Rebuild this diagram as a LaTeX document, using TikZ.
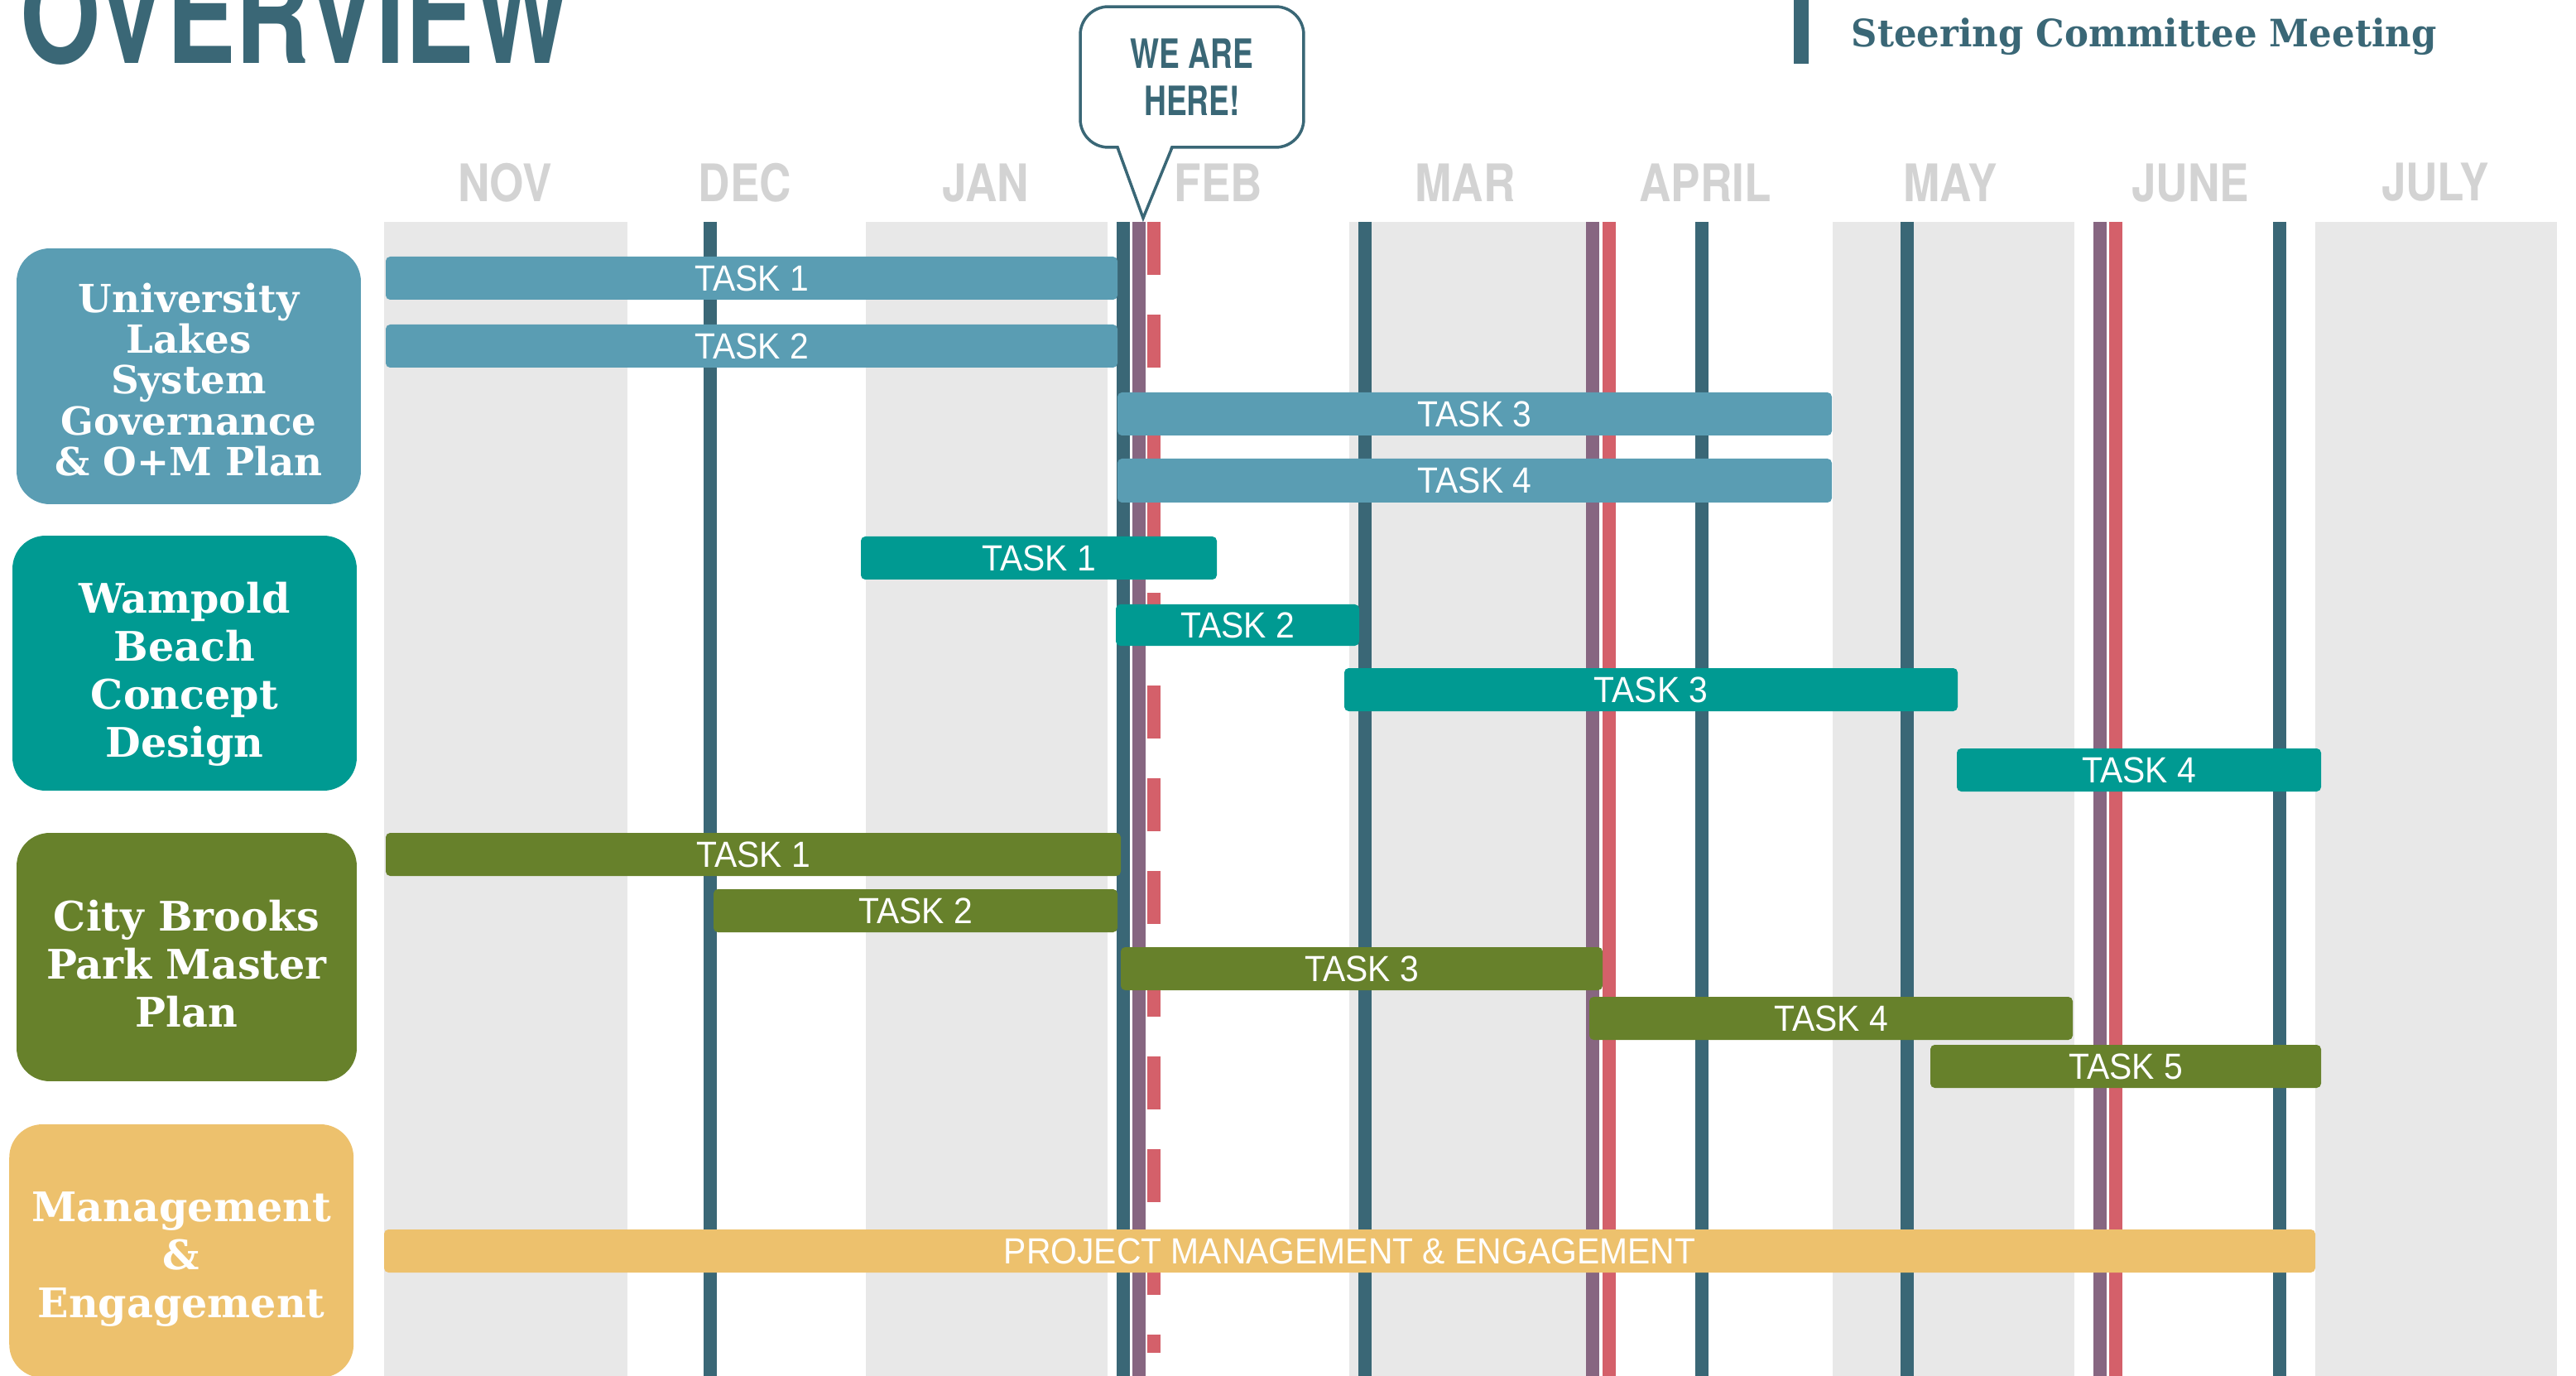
\documentclass[tikz,border=0pt]{standalone}
\usepackage{fontspec}
\newfontfamily\headfont{TeX Gyre Heros}[FakeStretch=0.76]
\newfontfamily\monthfont{TeX Gyre Heros}[FakeStretch=0.85]
\newfontfamily\boxfont{DejaVu Serif}
\newfontfamily\meetfont{DejaVu Serif}[FakeStretch=0.95]
\newfontfamily\taskfont{Liberation Sans}[FakeStretch=0.93]
\definecolor{darkteal}{HTML}{3A6776}
\definecolor{lakes}{HTML}{5A9DB3}
\definecolor{wampold}{HTML}{009A92}
\definecolor{brooks}{HTML}{67812B}
\definecolor{mgmt}{HTML}{EDC16D}
\definecolor{meetpurple}{HTML}{876681}
\definecolor{meetred}{HTML}{D4606A}
\definecolor{band}{HTML}{E8E8E8}
\definecolor{monthgray}{HTML}{D3D3D3}
\def\taskbar[#1](#2:#3:#4:#5)(#6)#7{\fill[#1, rounded corners=1.5pt] (#2,#4) rectangle (#3,#5); \node[tasklabel] (#6) at ({(#2+#3)/2},{(#4+#5)/2}) {#7};}
\tikzset{
	tasklabel/.style={inner sep=0pt, text=white, font=\taskfont\fontsize{12.5}{12.5}\selectfont},
	month/.style={inner sep=0pt, text=monthgray, font=\monthfont\bfseries\fontsize{17.8}{17.8}\selectfont},
	catbox/.style={rounded corners=0.4cm, inner sep=0pt},
	cattext/.style={text=white, align=center, inner sep=0pt, font=\boxfont\bfseries\fontsize{14}{16.5}\selectfont},
	tealline/.style={line width=0.16cm, color=darkteal},
	purpleline/.style={line width=0.16cm, color=meetpurple},
	redline/.style={line width=0.16cm, color=meetred},
}

\begin{document}
\begin{tikzpicture}[x=0.02cm, y=-0.02cm]
		%%%%% START %%%%%
		\useasboundingbox (0,0) rectangle (1556,831);
		
		\node[anchor=base west, inner sep=0pt, text=darkteal, font=\headfont\bfseries\fontsize{46.8}{46.8}\selectfont] (title) at (12,38.5) {OVERVIEW};
		
		\fill[darkteal] (1083.5,0) rectangle (1092.5,38.5);
		\node[anchor=base west, inner sep=0pt, text=darkteal, font=\meetfont\bfseries\fontsize{13}{13}\selectfont] (meeting) at (1118,28.3) {Steering Committee Meeting};
		
		% month bands
		\fill[band] (232,134) rectangle (379,831);
		\fill[band] (523,134) rectangle (669,831);
		\fill[band] (815,134) rectangle (961,831);
		\fill[band] (1107,134) rectangle (1253,831);
		\fill[band] (1398.5,134) rectangle (1544.5,831);
		
		\node[month] (nov) at (305,110.5) {NOV};
		\node[month] (dec) at (450,110.5) {DEC};
		\node[month] (jan) at (595.5,110.5) {JAN};
		\node[month] (feb) at (736,110.5) {FEB};
		\node[month] (mar) at (885,110.5) {MAR};
		\node[month] (apr) at (1030,110.5) {APRIL};
		\node[month] (may) at (1178,110.5) {MAY};
		\node[month] (jun) at (1323,110.5) {JUNE};
		\node[month] (jul) at (1471,110) {JULY};
		
		% meetings
		\draw[tealline] (429,134) -- (429,831);
		\draw[tealline] (678.5,134) -- (678.5,831);
		\draw[tealline] (824.5,134) -- (824.5,831);
		\draw[tealline] (1028,134) -- (1028,831);
		\draw[tealline] (1152,134) -- (1152,831);
		\draw[tealline] (1377,134) -- (1377,831);
		\draw[purpleline] (688,134) -- (688,831);
		\draw[purpleline] (962,134) -- (962,831);
		\draw[purpleline] (1268.5,134) -- (1268.5,831);
		\draw[redline, dash pattern=on 0.64cm off 0.48cm] (697,134) -- (697,817);
		\draw[redline] (972,134) -- (972,831);
		\draw[redline] (1278,134) -- (1278,831);
		
		% we are here
		\node[draw=darkteal, line width=1pt, fill=white, rounded corners=0.34cm, minimum width=2.7cm, minimum height=1.7cm, align=center, text=darkteal, font=\headfont\bfseries\fontsize{13.9}{16.2}\selectfont] (here) at (720,46.5) {WE ARE\\HERE!};
		\fill[white] (675.5,87.5) -- (690.5,129.5) -- (707.5,87.5) -- cycle;
		\coordinate (tip) at (690.5,131.7);
		\draw[darkteal, line width=1pt, line join=miter] (675,89) -- (tip) -- (708,89);
		
		% groups
		\node[catbox, fill=lakes, minimum width=4.16cm, minimum height=3.09cm] (lakes) at (114,227.25) {};
		\node[cattext, font=\boxfont\bfseries\fontsize{13.3}{14}\selectfont] (lakestext) at ([yshift=-0.04cm]lakes.center) {University\\Lakes\\System\\Governance\\\& O+M Plan};
		\node[catbox, fill=wampold, minimum width=4.16cm, minimum height=3.08cm] (wampold) at (111.5,400.5) {};
		\node[cattext] (wampoldtext) at ([yshift=-0.13cm]wampold.center) {Wampold\\Beach\\Concept\\Design};
		\node[catbox, fill=brooks, minimum width=4.11cm, minimum height=3cm] (brooks) at (112.75,578) {};
		\node[cattext] (brookstext) at ([yshift=-0.08cm]brooks.center) {City Brooks\\Park Master\\Plan};
		\node[catbox, fill=mgmt, minimum width=4.16cm, minimum height=3.06cm] (mgmt) at (109.6,755.5) {};
		\node[cattext] (mgmttext) at ([yshift=-0.1cm]mgmt.center) {Management\\\&\\Engagement};
		
		% tasks
		\taskbar[fill=lakes](233:675:155:181)(lakesA){TASK 1}
		\taskbar[fill=lakes](233:675:196:222)(lakesB){TASK 2}
		\taskbar[fill=lakes](675:1106.5:237:263)(lakesC){TASK 3}
		\taskbar[fill=lakes](675:1106.5:277:303.5)(lakesD){TASK 4}
		
		\taskbar[fill=wampold](520:735:324:350)(wampoldA){TASK 1}
		\taskbar[fill=wampold](674:821:365:390)(wampoldB){TASK 2}
		\taskbar[fill=wampold](812:1182.5:403.5:429.5)(wampoldC){TASK 3}
		\taskbar[fill=wampold](1182:1402:452:478)(wampoldD){TASK 4}
		
		\taskbar[fill=brooks](233:677:503:529)(brooksA){TASK 1}
		\taskbar[fill=brooks](431:675:537:563)(brooksB){TASK 2}
		\taskbar[fill=brooks](677:968:572:598)(brooksC){TASK 3}
		\taskbar[fill=brooks](960:1252:602:628)(brooksD){TASK 4}
		\taskbar[fill=brooks](1166:1402:631:657)(brooksE){TASK 5}
		
		\taskbar[fill=mgmt](232:1398.5:742.5:768.5)(mgmtA){PROJECT MANAGEMENT \& ENGAGEMENT}
		
		%%%%% END %%%%%
\end{tikzpicture}
\end{document}
